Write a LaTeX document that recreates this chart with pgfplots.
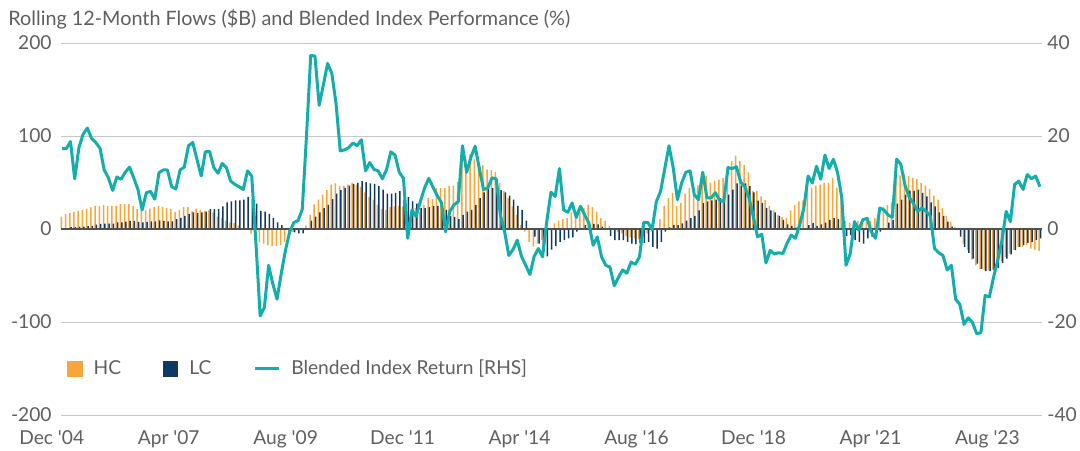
\documentclass[border=0pt]{standalone}
\usepackage{pgfplots}
\pgfplotsset{compat=1.18}
\usepackage{pgfplotstable}
\usepackage{fontspec}
\setmainfont{Lato}
\definecolor{hc}{RGB}{248,165,58}
\definecolor{lc}{RGB}{16,56,101}
\definecolor{ret}{RGB}{20,174,170}
\definecolor{txt}{RGB}{95,95,95}
\definecolor{gridc}{RGB}{200,200,200}
\definecolor{zeroc}{RGB}{80,80,80}
\newcommand{\fs}{\fontsize{9.6pt}{11.5pt}\selectfont}
\newcommand{\fst}{\fontsize{9.9pt}{12pt}\selectfont}

\pgfplotstableread{
i hc lc ret
0 13.4 1 17.3
1 16 1 17.3
2 17 2 18.8
3 18.5 2 10.8
4 19.6 2.5 17.5
5 20.7 2.5 20.4
6 21.7 3 21.7
7 23.2 3.3 19.5
8 25 4.7 18.6
9 25 5.4 17.4
10 25.7 5.8 12.7
11 25 5.8 11.0
12 25 5.8 8.3
13 25 7 11.2
14 26.8 7.2 10.7
15 26.8 8 12.2
16 26.8 8.7 13.3
17 25 8.7 11.0
18 21.4 7.6 8.5
19 20 7 4.1
20 20 7.6 7.8
21 22 8.3 8.1
22 23.5 8.3 6.4
23 25 9.4 12.1
24 23.5 8.7 12.7
25 22.8 8.3 12.7
26 21.4 8.3 9.1
27 18.5 10.5 8.6
28 20.7 12 12.7
29 23.5 14 13.3
30 23.5 16 17.9
31 19 17.8 18.6
32 22 17 15.0
33 20.6 17.8 11.4
34 19.6 18.8 16.6
35 20 21.4 16.7
36 18 21.4 13.2
37 13.4 21.4 12.0
38 11.6 24.3 14.1
39 9 28.6 13.2
40 6.9 29.7 10.3
41 6.2 30.8 9.6
42 3.6 30.8 9.1
43 0.7 31.5 8.5
44 -1 34.4 12.5
45 -5 32.2 11.4
46 -12 27.2 -3.0
47 -13.8 19.6 -18.7
48 -15.6 18.8 -16.9
49 -17.4 16.3 -7.8
50 -18.5 11.6 -11.8
51 -18.5 7.2 -15.1
52 -17.4 4.3 -9.6
53 -13.8 -1 -4.6
54 -10 -3 -0.6
55 -3 -3.6 1.4
56 -1 -4.7 1.8
57 0.5 -4.7 4.3
58 3.6 -1 20.1
59 15.2 9 37.3
60 26.5 13.4 37.2
61 31.5 17.8 26.6
62 37 22.5 31.0
63 41.7 26 35.6
64 47.8 32 33.5
65 49 38 27.0
66 46 41.7 16.8
67 46.7 44.2 17.0
68 47.8 46.7 17.5
69 49.6 48.6 18.5
70 47.8 49.6 17.9
71 45.3 51.4 19.2
72 39.5 50.4 12.5
73 34.4 49 14.3
74 31.5 48.6 12.8
75 26 46 12.5
76 21.4 42.4 10.8
77 20.7 38 12.8
78 23.5 38 16.6
79 24.3 38.8 15.9
80 25 40.6 12.2
81 24.3 31.5 10.9
82 18.8 34.4 -2.0
83 17 29.7 4.1
84 22.5 27.2 2.7
85 18.8 22.5 5.9
86 26 22.5 8.8
87 33.3 23.5 10.9
88 32.2 25 9.0
89 44 25 7.2
90 44 20.7 5.7
91 44 20.7 -0.6
92 46 14 3.8
93 46.7 12.7 5.2
94 50.4 10.5 5.9
95 73 15.2 17.9
96 75.7 18.8 12.2
97 80.4 20.7 15.4
98 75 26 17.8
99 72 33.3 13.0
100 68.5 39.5 8.5
101 64 44 8.8
102 63.4 44 11.0
103 61.2 43 10.8
104 49.6 41.7 3.0
105 40.6 39.5 -0.6
106 33.3 35.9 -5.7
107 24.3 31.5 -4.4
108 15.2 25 -2.4
109 4.3 20.7 -5.9
110 -2.9 9 -7.8
111 -13.8 -1 -9.8
112 -19 -8.3 -5.9
113 -15.6 -15.6 -4.2
114 -12 -22.8 -6.0
115 -5 -29.3 1.6
116 0 -22.1 7.9
117 6 -18.5 7.0
118 9 -13.8 13.0
119 10.5 -12 4.1
120 11.6 -10.1 3.6
121 17.8 -9 5.6
122 12.7 -2.9 2.5
123 18.8 0.7 4.9
124 22.5 4.3 3.0
125 26 5.4 1.2
126 23.5 5.4 -3.5
127 18.8 5 -1.7
128 11.6 2.5 -6.0
129 9 -0.4 -7.8
130 3.3 -7.6 -8.2
131 -1 -12 -12.2
132 -3 -12 -10.4
133 -4.7 -12 -8.8
134 -7.6 -13.8 -9.5
135 -9 -15.6 -7.1
136 -10.1 -16.3 -7.6
137 -11.2 -14.9 -6.0
138 -7.6 -14.9 1.4
139 -4.7 -13.8 1.4
140 -2.9 -19.2 -0.1
141 -0.4 -21 5.9
142 10.5 -13.8 8.1
143 25 -2.9 13.0
144 33.3 1.8 17.9
145 38.8 4.3 13.2
146 25 4.3 6.3
147 28 6 9.9
148 38 9 12.2
149 44 11.6 12.5
150 42 14 7.4
151 47 20 6.3
152 55 28 12.2
153 57 29.7 6.7
154 50 30.8 6.7
155 52 31.5 7.8
156 53 33.3 6.2
157 55 35 5.9
158 67 37 13.2
159 73 42.4 13.0
160 79 49 13.4
161 73 46.7 10.1
162 69 49 9.1
163 61 46 6.7
164 41 39.5 2.7
165 41 30.4 -1.7
166 35 28 -1.1
167 31 22.5 -7.3
168 25 20 -4.6
169 20 17.8 -5.4
170 15 14 -5.1
171 13 9.8 -5.3
172 11.6 5 -3.1
173 20 3.3 -1.3
174 26 1.5 -2.0
175 29.7 0 0.9
176 30.8 0 4.5
177 46 4.3 11.4
178 44.2 6.2 9.9
179 46.7 3.3 13.5
180 47.8 5 10.7
181 49.6 6.9 15.9
182 49.6 9.8 13.0
183 55 11.6 15.0
184 44.2 10.5 12.1
185 43 5 6.7
186 9 -7.6 -7.8
187 6.9 -6.5 -5.3
188 5.4 -12 1.6
189 9 -13.8 -0.2
190 6.9 -15.6 2.0
191 8 -10.1 2.3
192 9 -8.3 -0.6
193 11.6 -6.5 -2.0
194 20.7 -2.9 4.5
195 23.5 0.7 4.1
196 26 6.9 3.0
197 28.6 9.8 2.5
198 58.7 27.2 15.0
199 57.6 31.5 13.9
200 58.7 37 9.4
201 56.9 41.3 6.8
202 55 41 5.5
203 54 42.4 3.8
204 49.6 38.8 4.5
205 46.7 35.1 3.8
206 43 28.6 2.8
207 35.9 24.3 -4.2
208 31.5 17.8 -5.1
209 22.5 14.1 -5.7
210 14 8 -8.8
211 8 2.5 -7.8
212 1.8 -1 -15.1
213 -1 -8.3 -16.2
214 -15.6 -19.2 -20.5
215 -22.8 -25.7 -19.1
216 -33 -31.9 -20.1
217 -39 -37.3 -22.5
218 -42.8 -42.8 -22.3
219 -44.6 -45.3 -14.3
220 -44.6 -45.3 -14.6
221 -43.8 -44.6 -10.4
222 -41 -41.7 -6.7
223 -34.4 -36.6 -2.4
224 -30 -31.9 3.8
225 -26.4 -27.2 1.6
226 -22.8 -22.8 9.6
227 -19.2 -19.2 10.3
228 -19.2 -17.4 8.5
229 -17.4 -14.9 11.7
230 -21 -13.8 10.8
231 -22.1 -12 11.4
232 -23.5 -10.1 9.1
}\data

\begin{document}
\begin{tikzpicture}
\path (0pt,0pt) rectangle (540pt,225pt);
\node[anchor=base west, inner sep=0pt, text=txt, font=\fst] at (4pt,212.2pt)
  {Rolling 12-Month Flows (\$B) and Blended Index Performance (\%)};
\begin{axis}[
  at={(30.5pt,17.5pt)}, anchor=south west,
  width=490.5pt, height=186pt, scale only axis,
  xmin=-0.25, xmax=232.5, ymin=-200, ymax=200,
  axis line style={draw=none},
  major tick length=0pt, tick style={draw=none},
  ytick={-200,-100,0,100,200},
  yticklabels={-200,-100,0,100,200},
  xtick={25.3,53.05,80.8,108.55,136.3,164.05,191.8,219.55},
  xticklabels={Apr \textquotesingle{}07,Aug \textquotesingle{}09,Dec \textquotesingle{}11,Apr \textquotesingle{}14,Aug \textquotesingle{}16,Dec \textquotesingle{}18,Apr \textquotesingle{}21,Aug \textquotesingle{}23},
  tick label style={font=\fs, text=txt, inner sep=0pt},
  yticklabel style={anchor=base east, xshift=-4.5pt, yshift=-3.4pt},
  xticklabel style={anchor=base, yshift=-14.5pt},
  ymajorgrids, grid style={gridc, line width=0.5pt},
  clip=false,
]
\addplot[ybar, bar width=0.75pt, bar shift=-0.35pt, fill=hc, draw=none] table[x=i,y=hc]{\data};
\addplot[ybar, bar width=0.75pt, bar shift=0.35pt, fill=lc, draw=none] table[x=i,y=lc]{\data};
\draw[zeroc, line width=0.6pt] (rel axis cs:0,0.5) -- (rel axis cs:1,0.5);
\node[anchor=base, inner sep=0pt, text=txt, font=\fs, yshift=-14.5pt] at (axis cs:-2.45,-200) {Dec \textquotesingle{}04};
\end{axis}
\begin{axis}[
  at={(30.5pt,17.5pt)}, anchor=south west,
  width=490.5pt, height=186pt, scale only axis,
  xmin=-0.25, xmax=232.5, ymin=-40, ymax=40,
  hide x axis, axis y line*=right,
  axis line style={draw=none},
  major tick length=0pt, tick style={draw=none},
  ytick={-40,-20,0,20,40},
  yticklabels={-40,-20,0,20,40},
  tick label style={font=\fs, text=txt, inner sep=0pt},
  yticklabel style={anchor=base west, xshift=2.5pt, yshift=-3.4pt},
  legend style={at={(0.0061,0.1237)}, anchor=west, draw=none, fill=none,
    inner sep=0pt, font=\fs, text=txt, legend columns=3,
    nodes={inner sep=0pt},
    /tikz/every odd column/.append style={column sep=5.5pt},
    /tikz/every even column/.append style={column sep=21pt}},
  legend cell align=left,
]
\addlegendimage{legend image code/.code={\fill[hc] (0pt,-3.6pt) rectangle (7.2pt,3.6pt);}}
\addlegendentry{HC}
\addlegendimage{legend image code/.code={\fill[lc] (0pt,-3.6pt) rectangle (7.2pt,3.6pt);}}
\addlegendentry{LC}
\addplot[ret, line width=1.5pt, line join=round, mark=none,
  legend image code/.code={\draw[ret, line width=1.5pt] (0pt,0pt) -- (12pt,0pt);}]
  table[x=i,y=ret]{\data};
\addlegendentry{Blended Index Return [RHS]}
\end{axis}
\end{tikzpicture}
\end{document}
